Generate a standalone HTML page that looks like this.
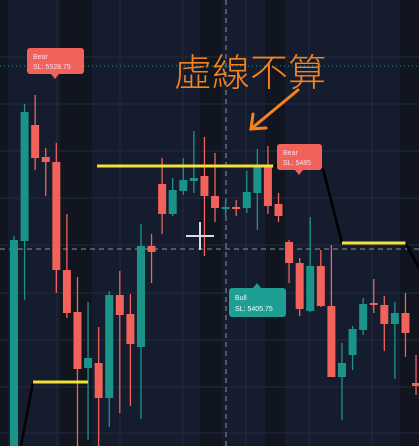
<!DOCTYPE html>
<html><head><meta charset="utf-8"><style>
html,body{margin:0;padding:0;background:#131b2c;overflow:hidden;width:419px;height:446px}
svg{display:block;overflow:hidden}
</style></head><body>
<svg id="chart" width="419" height="446" viewBox="0 0 419 446" xmlns="http://www.w3.org/2000/svg">
<rect width="419" height="446" fill="#141c2e"/>
<g id="bands"></g>
<g id="grid"></g>
<line x1="0" y1="66" x2="419" y2="66" stroke="#1f8f86" stroke-width="1" stroke-dasharray="1,3"/>
<line x1="226" y1="0" x2="226" y2="446" stroke="#8a92a3" stroke-width="1" stroke-dasharray="5,4"/>
<line x1="0" y1="249" x2="419" y2="249" stroke="#8a92a3" stroke-width="1" stroke-dasharray="5,4"/>
<g id="candles"></g>
<g id="levels"></g>
<g>
<rect x="27" y="48" width="57" height="26" rx="3" fill="#f0625a"/><polygon points="51,74 59,74 55,79" fill="#f0625a"/>
<text x="33" y="59" font-family="Liberation Sans, sans-serif" font-size="7" fill="#fde" >Bear</text>
<text x="33" y="69" font-family="Liberation Sans, sans-serif" font-size="7" fill="#fde">SL: 5528.75</text></g>
<g>
<rect x="277" y="144" width="45" height="26" rx="3" fill="#f0625a"/><polygon points="295,170 303,170 299,175" fill="#f0625a"/>
<text x="283" y="155" font-family="Liberation Sans, sans-serif" font-size="7" fill="#fde">Bear</text>
<text x="283" y="165" font-family="Liberation Sans, sans-serif" font-size="7" fill="#fde">SL: 5485</text></g>
<g>
<rect x="229" y="288" width="57" height="29" rx="3" fill="#1f9e94"/><polygon points="253,288 261,288 257,283" fill="#1f9e94"/>
<text x="235" y="300" font-family="Liberation Sans, sans-serif" font-size="7" fill="#e8fffb">Bull</text>
<text x="235" y="311" font-family="Liberation Sans, sans-serif" font-size="7" fill="#e8fffb">SL: 5405.75</text></g>
<g stroke="#d8dce2" stroke-width="2">
<line x1="186" y1="236" x2="214" y2="236"/><line x1="200" y1="222" x2="200" y2="250"/></g>
<text x="174" y="86" font-family="Liberation Sans, 'Noto Sans CJK TC', sans-serif" font-size="38" font-weight="300" fill="#f58220">虛線不算</text>
<g stroke="#f58220" stroke-width="3" fill="none" stroke-linecap="round">
<line x1="298" y1="90" x2="251" y2="129"/><polyline points="253,114 251,129 266,128"/></g>
</svg>
<script>
const opens =[5325,5439.5,5497.5,5481.5,5479,5425,5404,5376,5378.5,5361,5412.5,5403,5386.5,5437,5468,5453,5464.5,5469.5,5472,5462,5455.5,5456.5,5456,5463.5,5476.5,5458,5439,5428.5,5404.5,5427,5407,5371.5,5382.5,5395,5408.5,5407.5,5398,5403.5,5368.5];
const highs =[5442,5508,5512.5,5486,5488.5,5453,5421.5,5409,5396.5,5414.5,5424.5,5413,5448,5443,5481,5471,5481,5494.5,5491.5,5483.5,5460,5460,5474.5,5485.5,5487,5463.5,5440,5431,5451.5,5435,5437.5,5388.5,5397,5411,5420.5,5412,5409,5413.5,5382.5];
const lows  =[5335,5410,5475,5462,5413.5,5401,5335,5340,5335,5346.5,5353.5,5357,5350.5,5418.5,5443,5452,5462.5,5463.5,5432,5449,5452,5452,5453.5,5445,5453,5449,5418.5,5402,5404,5406.5,5371.5,5350,5375,5392.5,5403.5,5384.5,5370.5,5381.5,5362.5];
const closes=[5440,5504,5481,5479,5425,5403.5,5375.5,5381,5361,5412.5,5402.5,5388,5437,5434,5453,5465,5470,5471,5462,5456,5456.5,5455.5,5464,5476.5,5457,5452,5428.5,5405.5,5427,5407,5371.5,5378.5,5395.5,5408,5407.5,5398,5403.5,5393.5,5367];
const levelPrices=[5477,5438.5,5369];
const levelStarts=[7.85,31,1.8];
const levelEnds=[24.5,37,7];
const NS='http://www.w3.org/2000/svg';
function yScale(p){return Math.min((5560-p)*2,446);}
function xScale(i){return 14+i*10.58;}
function mk(t,a,parent){const e=document.createElementNS(NS,t);for(const k in a)e.setAttribute(k,a[k]);parent.appendChild(e);return e;}
const bands=document.getElementById('bands');
[[0,8],[60,92],[200,222],[265,285],[400,419]].forEach(b=>{
const r=mk('rect',{x:b[0],y:0,width:b[1]-b[0],height:446,fill:'#10151f'},bands);

});
const grid=document.getElementById('grid');
[57,104,151,198,245,293,340,387,433].forEach(y=>{const l=mk('line',{x1:0,x2:419,y1:y,y2:y,stroke:'#222b3d','stroke-width':1},grid);

});
[57,120,183,246,309,372].forEach(x=>{const l=mk('line',{x1:x,x2:x,y1:0,y2:446,stroke:'#222b3d','stroke-width':1},grid);

});
const cg=document.getElementById('candles');
for(let i=0;i<opens.length;i++){
const up=closes[i]>=opens[i];const col=up?'#1a9488':'#f0625a';const x=xScale(i);
const g=mk('g',{},cg);


mk('line',{x1:x,x2:x,y1:yScale(highs[i]),y2:yScale(lows[i]),stroke:col,'stroke-width':1.3},g);
const t=yScale(Math.max(opens[i],closes[i])),b=yScale(Math.min(opens[i],closes[i]));
mk('rect',{x:x-4,y:t,width:8,height:Math.max(b-t,1.5),fill:col},g);}
const lg=document.getElementById('levels');
const blk=mk('polyline',{points:[[xScale(levelStarts[2]),yScale(levelPrices[2])],[21,446]].join(' '),stroke:'#000','stroke-width':2.5,fill:'none'},lg);


const blk2=mk('polyline',{points:[[xScale(levelEnds[0]),yScale(levelPrices[0])],[323,169],[xScale(levelStarts[1]),yScale(levelPrices[1])]].join(' '),stroke:'#000','stroke-width':2.5,fill:'none'},lg);


const blk3=mk('polyline',{points:[[xScale(levelEnds[1]),yScale(levelPrices[1])],[419,268]].join(' '),stroke:'#000','stroke-width':2.5,fill:'none'},lg);


for(let i=0;i<levelPrices.length;i++){
const l=mk('line',{x1:xScale(levelStarts[i]),x2:xScale(levelEnds[i]),y1:yScale(levelPrices[i]),y2:yScale(levelPrices[i]),stroke:'#f2e23a','stroke-width':3},lg);

}
</script>
</body></html>
